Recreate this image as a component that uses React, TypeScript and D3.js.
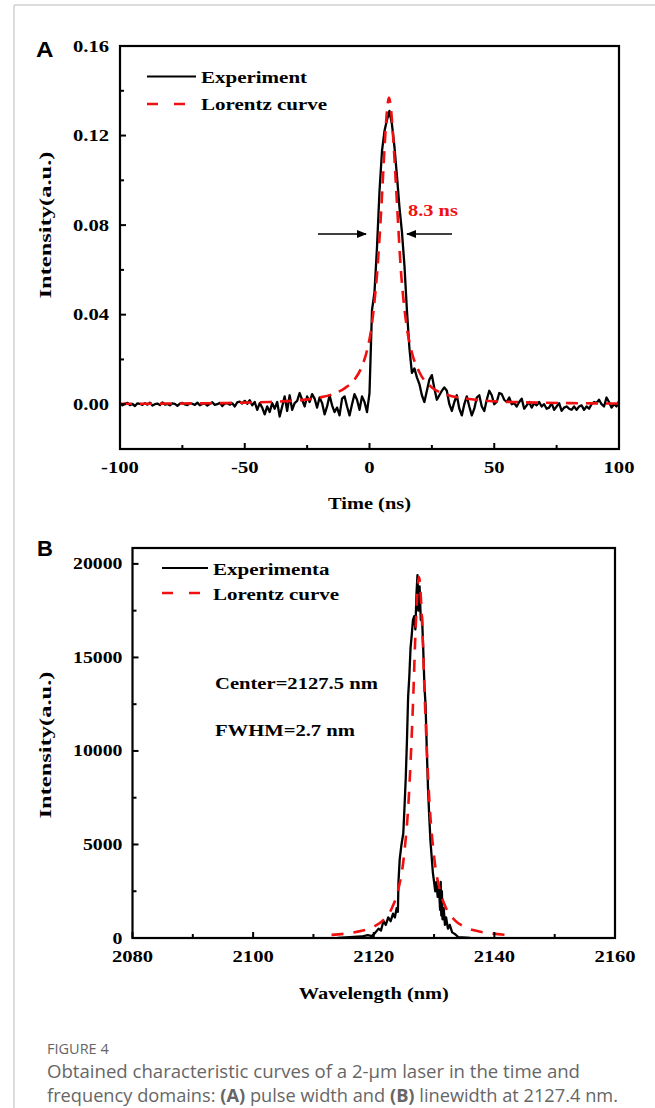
import React from "react";
import * as d3 from "d3";

// ---------- Panel A data (time domain) ----------
const timeStartNs = -100;
const timeStepNs = 1;
// Experiment intensity, in units of 1e-3 a.u., one value per ns from -100 to 100
const experimentA_milli = [
  0.3, -0.5, 0.2, 0.6, -0.4, 0.1, -0.8, 0.4, 0.2, -0.3,
  0.5, -0.2, 0.7, -0.6, 0.0, 0.3, -0.4, 0.8, -0.2, 0.1,
  -0.5, 0.4, 0.2, -0.7, 0.3, 0.6, -0.1, -0.4, 0.5, 0.2,
  -0.3, 0.7, -0.5, 0.1, 0.4, -0.6, 0.2, 0.9, -0.3, 0.0,
  0.6, -0.8, 0.3, 0.5, -0.2, 0.4, -1.0, 0.8, 1.2, 0.3,
  1.5, 0.2, 1.8, -0.5, 1.0, -2.5, 0.5, -1.5, -4.5, -1.0,
  -3.5, 0.5, -2.0, 1.0, -5.5, -1.0, 3.5, -3.0, 4.0, -2.5,
  0.5, 1.5, 5.0, 2.0, -1.0, 3.5, 1.0, 4.5, 2.5, -1.5,
  3.0, 0.5, -4.5, -1.0, 4.0, -0.5, -3.5, -1.5, -5.0, 2.5,
  3.5, -1.0, -5.0, 0.0, 4.5, 2.0, -2.5, 3.5, 1.0, -3.5,
  5, 42, 50, 70, 95, 113, 122, 127, 131, 125, 115, 102, 88, 77, 62, 42, 25, 14,
  16, 12, 9, 4, 1, 6, 11, 13, 7, 2,
  4, 6, 7.5, 6, 0, -3, 1, 4, -2, -5,
  0, 3.5, -1, -5, -2, 3, 4, -1, -3, 2,
  6, 4, 0, 1, 5, 4.5, 2, 1, 3, 0,
  0.5, -1, 1, 2.5, -2, -0.5, 1, -1.5, 0.5, -0.5,
  1, -1, 0, -2, -1.5, 0.5, -2.5, -1, 0.5, -3,
  -1.5, -1, -2, -2.5, -1, -2.5, -1, -0.5, -2.5, -1,
  -2, 0, 1, 0.5, 2, 0, -1, 3, 1, -1.5,
  0, -1, 1.5,
];
// Lorentz fit
const lorentzATime = [-100, -80, -60, -50, -40, -30, -20, -15, -10, -6, -3, -1, 1, 2, 3, 4, 5, 6, 7, 7.8, 8.5, 9.5, 10.5, 11.5, 12.5, 13.5, 15, 17, 20, 25, 30, 40, 50, 60, 80, 100];
const lorentzAValue = [0.0002, 0.0003, 0.0005, 0.0007, 0.001, 0.0016, 0.003, 0.0044, 0.0071, 0.011, 0.017, 0.024, 0.036, 0.046, 0.058, 0.074, 0.093, 0.114, 0.131, 0.137, 0.133, 0.119, 0.1, 0.08, 0.061, 0.048, 0.034, 0.023, 0.0143, 0.0075, 0.0046, 0.0023, 0.0013, 0.0009, 0.0005, 0.0003];
const timeMajorTicks = [-100, -50, 0, 50, 100];
const timeMinorTicks = [-75, -25, 25, 75];
const intensityAMajorTicks = [0, 0.04, 0.08, 0.12, 0.16];
const intensityAMinorTicks = [-0.02, 0.02, 0.06, 0.1, 0.14];

// ---------- Panel B data (spectrum) ----------
const specWavelength = [2114, 2116, 2118, 2119, 2119.7, 2120.3, 2120.8, 2121.2, 2121.6, 2122, 2122.4, 2122.8, 2123.2, 2123.5, 2123.8, 2124.0, 2124.1, 2124.3, 2124.6, 2124.9, 2125.1, 2125.3, 2125.5, 2125.7, 2125.9, 2126.1, 2126.3, 2126.5, 2126.7, 2126.9, 2127.1, 2127.25, 2127.4, 2127.6, 2127.8, 2128.0, 2128.2, 2128.4, 2128.6, 2128.8, 2129.0, 2129.2, 2129.4, 2129.6, 2129.8, 2130.0, 2130.2, 2130.4, 2130.6, 2130.8, 2131.0, 2131.1, 2131.2, 2131.3, 2131.4, 2131.6, 2131.8, 2132.0, 2132.3, 2132.6, 2133.0, 2133.5, 2134, 2136];
const specIntensity = [0, 50, 80, 150, 100, 300, 500, 400, 900, 700, 1100, 900, 1300, 1100, 1600, 1400, 3000, 4200, 5000, 5600, 7000, 8500, 10500, 12900, 14000, 15500, 16200, 17000, 17200, 16500, 18500, 19400, 17500, 18800, 17000, 17200, 15500, 13500, 12400, 10000, 8000, 6500, 5200, 4350, 3500, 3000, 2500, 3000, 2200, 2800, 1500, 3000, 1200, 2500, 1000, 1600, 700, 1100, 500, 700, 300, 200, 50, 0];
const lorentzBWavelength = [2113, 2116, 2118, 2120, 2121.5, 2123, 2124, 2125, 2125.8, 2126.5, 2127, 2127.5, 2128, 2128.5, 2129.2, 2130, 2131, 2132, 2133.5, 2135, 2137, 2139, 2142];
const lorentzBIntensity = [166, 262, 382, 605, 930, 1595, 2500, 4357, 7450, 12460, 16970, 19300, 16970, 12460, 7450, 4357, 2500, 1595, 930, 605, 382, 262, 166];
const wavelengthMajorTicks = [2080, 2100, 2120, 2140, 2160];
const wavelengthMinorTicks = [2090, 2110, 2130, 2150];
const intensityBMajorTicks = [0, 5000, 10000, 15000, 20000];
const intensityBMinorTicks = [2500, 7500, 12500, 17500];

const SERIF = "'Liberation Serif', 'Times New Roman', serif";
const SANS = "'Liberation Sans', Arial, sans-serif";
const RED = "#f01010";

type STextProps = {
  x: number; y: number; size: number; anchor?: "start" | "middle" | "end";
  sx?: number; fill?: string; rotate?: number; children: React.ReactNode; family?: string; weight?: string | number;
};
function SText({ x, y, size, anchor = "start", sx = 1.2, fill = "#000", rotate = 0, children, family = SERIF, weight = "bold" }: STextProps) {
  return (
    <text
      transform={`translate(${x},${y}) rotate(${rotate}) scale(${sx},1)`}
      textAnchor={anchor}
      fontFamily={family}
      fontWeight={weight}
      fontSize={size}
      fill={fill}
    >
      {children}
    </text>
  );
}

function PanelA() {
  const x = d3.scaleLinear().domain([-100, 100]).range([120, 619]);
  const y = d3.scaleLinear().domain([-0.02, 0.16]).range([449, 46]);
  const expPts: [number, number][] = experimentA_milli.map((v, i) => [timeStartNs + i * timeStepNs, v / 1000]);
  const lorPts: [number, number][] = lorentzATime.map((t, i) => [t, lorentzAValue[i]]);
  const line = d3.line<[number, number]>().x((d) => x(d[0])).y((d) => y(d[1])).curve(d3.curveMonotoneX);
  const lineLin = d3.line<[number, number]>().x((d) => x(d[0])).y((d) => y(d[1]));
  const [x0, x1] = x.range();
  const [yb, yt] = y.range();
  return (
    <g>
      <defs>
        <clipPath id="clipA"><rect x={x0} y={yt} width={x1 - x0} height={yb - yt} /></clipPath>
        <marker id="arrowHead" viewBox="0 0 10 10" refX="9" refY="5" markerWidth="7" markerHeight="7" orient="auto">
          <path d="M0,1 L10,5 L0,9 Z" fill="#000" />
        </marker>
      </defs>
      <g clipPath="url(#clipA)">
        <path d={lineLin(expPts) || ""} fill="none" stroke="#000" strokeWidth={2.3} strokeLinejoin="round" />
        <path d={line(lorPts) || ""} fill="none" stroke={RED} strokeWidth={2.6} strokeDasharray="12,8" />
      </g>
      <rect x={x0} y={yt} width={x1 - x0} height={yb - yt} fill="none" stroke="#000" strokeWidth={2.2} />
      {timeMajorTicks.map((t) => (
        <g key={"xm" + t}>
          <line x1={x(t)} x2={x(t)} y1={yb} y2={yb - 6} stroke="#000" strokeWidth={2} />
          <SText x={x(t)} y={yb + 24} size={16.5} sx={1.25} anchor="middle">{t}</SText>
        </g>
      ))}
      {timeMinorTicks.map((t) => (
        <line key={"xn" + t} x1={x(t)} x2={x(t)} y1={yb} y2={yb - 4} stroke="#000" strokeWidth={2} />
      ))}
      {intensityAMajorTicks.map((v) => (
        <g key={"ym" + v}>
          <line x1={x0} x2={x0 + 6} y1={y(v)} y2={y(v)} stroke="#000" strokeWidth={2} />
          <SText x={x0 - 11} y={y(v) + 5.5} size={16.5} sx={1.25} anchor="end">{v.toFixed(2)}</SText>
        </g>
      ))}
      {intensityAMinorTicks.map((v) => (
        <line key={"yn" + v} x1={x0} x2={x0 + 4} y1={y(v)} y2={y(v)} stroke="#000" strokeWidth={2} />
      ))}
      <SText x={(x0 + x1) / 2} y={509} size={17} anchor="middle">Time (ns)</SText>
      <SText x={51} y={225} size={17.5} sx={1.4} anchor="middle" rotate={-90}>Intensity(a.u.)</SText>
      {/* legend */}
      <line x1={147} x2={196} y1={76.5} y2={76.5} stroke="#000" strokeWidth={2} />
      <SText x={201} y={83} size={17.5}>Experiment</SText>
      <line x1={147} x2={196} y1={104} y2={104} stroke={RED} strokeWidth={2.6} strokeDasharray="11,16" />
      <SText x={201} y={110} size={17.5}>Lorentz curve</SText>
      {/* FWHM annotation */}
      <SText x={408} y={216} size={17} fill={RED}>8.3 ns</SText>
      <line x1={318} x2={366} y1={234} y2={234} stroke="#000" strokeWidth={1.5} markerEnd="url(#arrowHead)" />
      <line x1={452} x2={407} y1={234} y2={234} stroke="#000" strokeWidth={1.5} markerEnd="url(#arrowHead)" />
      <SText x={36} y={57} size={22} family={SANS} sx={1.1}>A</SText>
    </g>
  );
}

function PanelB() {
  const x = d3.scaleLinear().domain([2080, 2160]).range([132.5, 615]);
  const y = d3.scaleLinear().domain([0, 20850]).range([938, 548]);
  const expPts: [number, number][] = specWavelength.map((w, i) => [w, specIntensity[i]]);
  const lorPts: [number, number][] = lorentzBWavelength.map((w, i) => [w, lorentzBIntensity[i]]);
  const lineLin = d3.line<[number, number]>().x((d) => x(d[0])).y((d) => y(d[1]));
  const line = d3.line<[number, number]>().x((d) => x(d[0])).y((d) => y(d[1])).curve(d3.curveMonotoneX);
  const [x0, x1] = x.range();
  const [yb, yt] = y.range();
  return (
    <g>
      <defs>
        <clipPath id="clipB"><rect x={x0} y={yt} width={x1 - x0} height={yb - yt} /></clipPath>
      </defs>
      <g clipPath="url(#clipB)">
        <path d={lineLin(expPts) || ""} fill="none" stroke="#000" strokeWidth={2.3} strokeLinejoin="round" />
        <path d={line(lorPts) || ""} fill="none" stroke={RED} strokeWidth={2.6} strokeDasharray="12,10" />
      </g>
      <rect x={x0} y={yt} width={x1 - x0} height={yb - yt} fill="none" stroke="#000" strokeWidth={2.2} />
      {wavelengthMajorTicks.map((t) => (
        <g key={"xm" + t}>
          <line x1={x(t)} x2={x(t)} y1={yb} y2={yb - 6} stroke="#000" strokeWidth={2} />
          <SText x={x(t)} y={yb + 24} size={16.5} sx={1.25} anchor="middle">{t}</SText>
        </g>
      ))}
      {wavelengthMinorTicks.map((t) => (
        <line key={"xn" + t} x1={x(t)} x2={x(t)} y1={yb} y2={yb - 4} stroke="#000" strokeWidth={2} />
      ))}
      {intensityBMajorTicks.map((v) => (
        <g key={"ym" + v}>
          <line x1={x0} x2={x0 + 6} y1={y(v)} y2={y(v)} stroke="#000" strokeWidth={2} />
          <SText x={x0 - 10} y={y(v) + 5.5} size={16.5} sx={1.2} anchor="end">{v}</SText>
        </g>
      ))}
      {intensityBMinorTicks.map((v) => (
        <line key={"yn" + v} x1={x0} x2={x0 + 4} y1={y(v)} y2={y(v)} stroke="#000" strokeWidth={2} />
      ))}
      <SText x={(x0 + x1) / 2} y={999} size={17} anchor="middle">Wavelength (nm)</SText>
      <SText x={51} y={745} size={17.5} sx={1.4} anchor="middle" rotate={-90}>Intensity(a.u.)</SText>
      <line x1={162} x2={208} y1={568} y2={568} stroke="#000" strokeWidth={2} />
      <SText x={213} y={575} size={17.5}>Experimenta</SText>
      <line x1={162} x2={208} y1={593} y2={593} stroke={RED} strokeWidth={2.6} strokeDasharray="11,16" />
      <SText x={213} y={600} size={17.5}>Lorentz curve</SText>
      <SText x={215} y={689} size={16.5} sx={1.25}>Center=2127.5 nm</SText>
      <SText x={215} y={736} size={16.5} sx={1.25}>FWHM=2.7 nm</SText>
      <SText x={37} y={556} size={22} family={SANS} sx={1.0}>B</SText>
    </g>
  );
}

export default function App() {
  const W = 655;
  const H = 1108;
  const capFont = "'Open Sans', 'Noto Sans', sans-serif";
  return (
    <svg width={W} height={H} viewBox={`0 0 ${W} ${H}`} style={{ position: "absolute", left: 0, top: 0, background: "#fff" }}>
      <rect x={0} y={0} width={W} height={H} fill="#fff" />
      <line x1={14} x2={W} y1={5} y2={5} stroke="#d0d0d0" strokeWidth={1.5} />
      <line x1={14} x2={14} y1={5} y2={H} stroke="#d0d0d0" strokeWidth={1.5} />
      <PanelA />
      <PanelB />
      <text x={47} y={1054} fontFamily={capFont} fontSize={14.5} fill="#666">FIGURE 4</text>
      <text x={47} y={1078} fontFamily={capFont} fontSize={17.5} fill="#666" textLength={533} lengthAdjust="spacingAndGlyphs">
        Obtained characteristic curves of a 2-μm laser in the time and
      </text>
      <text x={47} y={1102} fontFamily={capFont} fontSize={17.5} fill="#666" textLength={571} lengthAdjust="spacingAndGlyphs">
        frequency domains: <tspan fontWeight="bold">(A)</tspan> pulse width and <tspan fontWeight="bold">(B)</tspan> linewidth at 2127.4 nm.
      </text>
    </svg>
  );
}
